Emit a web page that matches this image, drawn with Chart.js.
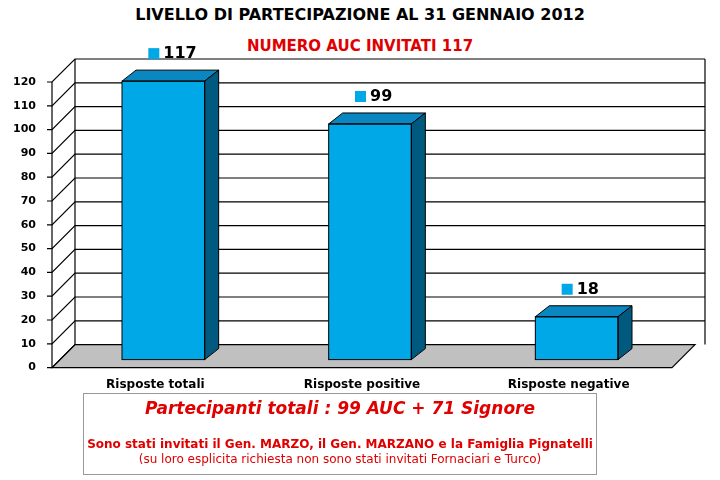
<!DOCTYPE html>
<html><head><meta charset="utf-8">
<script src="https://cdn.jsdelivr.net/npm/chart.js@4"></script>
<style>
body{margin:0;background:#fff;font-family:"DejaVu Sans",sans-serif;}
#wrap{position:absolute;left:0;top:0;width:720px;height:480px;}
.t{position:absolute;left:0;width:720px;text-align:center;font-weight:bold;}
#box{position:absolute;left:83px;top:393px;width:512px;height:80px;border:1px solid #999;text-align:center;color:#e00000;}
</style></head><body>
<div id="wrap">
<div class="t" style="top:5px;font-size:16px;color:#000">LIVELLO DI PARTECIPAZIONE AL 31 GENNAIO 2012</div>
<div class="t" style="top:37px;font-size:15px;color:#e00000">NUMERO AUC INVITATI 117</div>
<canvas id="c" width="720" height="394" style="position:absolute;left:0;top:0;width:720px;height:394px"></canvas>
<div id="box">
<div style="font-size:17px;font-weight:bold;font-style:italic;margin-top:4px">Partecipanti totali : 99 AUC + 71 Signore</div>
<div style="font-size:12px;font-weight:bold;margin-top:19px">Sono stati invitati il Gen. MARZO, il Gen. MARZANO e la Famiglia Pignatelli</div>
<div style="font-size:12px;margin-top:1px">(su loro esplicita richiesta non sono stati invitati Fornaciari e Turco)</div>
</div>
</div>
<script>
const categories=["Risposte totali","Risposte positive","Risposte negative"];
const values=[117,99,18];
const DX=23,DY=23,BX=8,BY=-8,BDX=14,BDY=11;
const threeD={id:'threeD',
beforeDatasetsDraw(ch){
 const {ctx,chartArea:a,scales:{y}}=ch;
 ctx.save();
 ctx.fillStyle='#c0c0c0';ctx.strokeStyle='#000';ctx.lineWidth=1.2;
 ctx.beginPath();ctx.moveTo(a.left,a.bottom);ctx.lineTo(a.right,a.bottom);ctx.lineTo(a.right+DX,a.bottom-DY);ctx.lineTo(a.left+DX,a.bottom-DY);ctx.closePath();ctx.fill();ctx.stroke();
 y.ticks.forEach(t=>{const py=y.getPixelForValue(t.value);
  ctx.beginPath();ctx.moveTo(a.left-5,py);ctx.lineTo(a.left,py);ctx.lineTo(a.left+DX,py-DY);
  if(t.value>0)ctx.lineTo(a.right+DX+10,py-DY);ctx.stroke();});
 ctx.beginPath();ctx.moveTo(a.left,a.bottom);ctx.lineTo(a.left,y.getPixelForValue(120));ctx.stroke();
 ctx.beginPath();ctx.moveTo(a.left+DX,a.bottom-DY);ctx.lineTo(a.left+DX,y.getPixelForValue(120)-DY);ctx.stroke();
 ctx.beginPath();ctx.moveTo(a.right+DX+10,a.bottom-DY);ctx.lineTo(a.right+DX+10,y.getPixelForValue(120)-DY);ctx.stroke();
 ctx.restore();
 ctx.save();ctx.translate(BX,BY);
},
afterDatasetsDraw(ch){
 const {ctx}=ch;
 ch.getDatasetMeta(0).data.forEach((b,i)=>{
  const l=b.x-b.width/2,r=b.x+b.width/2,t=b.y,bt=b.base;
  ctx.strokeStyle='#000';ctx.lineWidth=1;
  ctx.fillStyle='#0a86c0';ctx.beginPath();ctx.moveTo(l,t);ctx.lineTo(l+BDX,t-BDY);ctx.lineTo(r+BDX,t-BDY);ctx.lineTo(r,t);ctx.closePath();ctx.fill();ctx.stroke();
  ctx.fillStyle='#005a80';ctx.beginPath();ctx.moveTo(r,t);ctx.lineTo(r+BDX,t-BDY);ctx.lineTo(r+BDX,bt-BDY);ctx.lineTo(r,bt);ctx.closePath();ctx.fill();ctx.stroke();
  ctx.strokeRect(l,t,r-l,bt-t);
 });
 ctx.restore();
 ch.getDatasetMeta(0).data.forEach((b,i)=>{
  const cx=b.x+BX-12,cy=b.y+BY-27;
  ctx.fillStyle='#00a8e8';ctx.fillRect(cx-3,cy-6,11,11);
  ctx.fillStyle='#000';ctx.font='bold 16px "DejaVu Sans"';ctx.textBaseline='middle';ctx.textAlign='left';
  ctx.fillText(String(values[i]),cx+12,cy);
 });
}};
new Chart(document.getElementById('c'),{type:'bar',
data:{labels:categories,datasets:[{data:values,backgroundColor:'#00a8e8',borderWidth:0,categoryPercentage:1,barPercentage:0.4}]},
options:{responsive:false,animation:false,events:[],
layout:{padding:{left:0,right:48,top:82,bottom:0}},
plugins:{legend:{display:false},tooltip:{enabled:false}},
scales:{
 x:{grid:{display:false},border:{display:false},ticks:{color:'#000',font:{family:'DejaVu Sans',size:12,weight:'bold'},padding:2}},
 y:{min:0,max:120,afterFit(s){s.width=52;},grid:{display:false},border:{display:false},ticks:{stepSize:10,color:'#000',padding:8,font:{family:'DejaVu Sans',size:11,weight:'bold'}}}
}},plugins:[threeD]});
</script></body></html>
